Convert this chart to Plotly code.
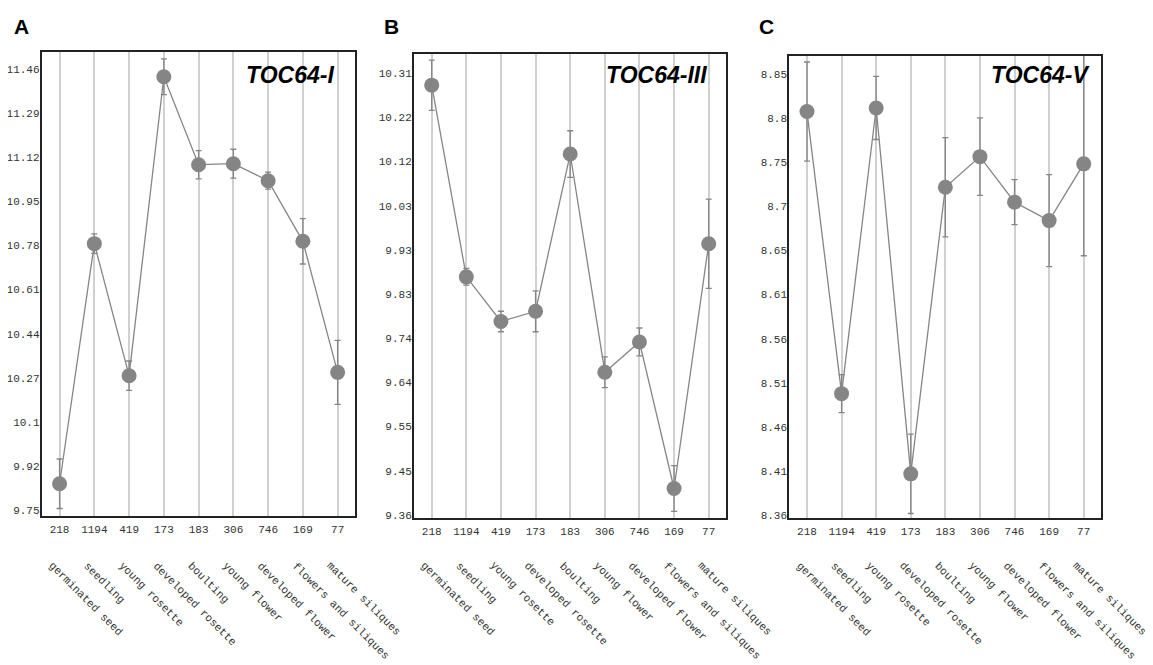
import numpy as np
import plotly.graph_objects as go

# ---------------- data ----------------
stages = ["germinated seed", "seedling", "young rosette", "developed rosette", "boulting",
          "young flower", "developed flower", "flowers and siliques", "mature siliques"]
sample_counts = ["218", "1194", "419", "173", "183", "306", "746", "169", "77"]

toc64_i_mean = [9.852, 10.783, 10.271, 11.430, 11.089, 11.093, 11.027, 10.792, 10.284]
toc64_i_err_up = [0.096, 0.038, 0.057, 0.069, 0.055, 0.056, 0.033, 0.088, 0.124]
toc64_i_err_down = [0.096, 0.038, 0.057, 0.069, 0.055, 0.056, 0.033, 0.088, 0.124]
toc64_i_ticks = ["9.75", "9.92", "10.1", "10.27", "10.44", "10.61", "10.78", "10.95", "11.12", "11.29", "11.46"]

toc64_iii_mean = [10.284, 9.872, 9.776, 9.798, 10.136, 9.667, 9.732, 9.417, 9.943]
toc64_iii_err_up = [0.054, 0.018, 0.022, 0.044, 0.050, 0.033, 0.030, 0.049, 0.096]
toc64_iii_err_down = [0.054, 0.018, 0.022, 0.044, 0.050, 0.033, 0.030, 0.049, 0.096]
toc64_iii_ticks = ["9.36", "9.45", "9.55", "9.64", "9.74", "9.83", "9.93", "10.03", "10.12", "10.22", "10.31"]

toc64_v_mean = [8.808, 8.495, 8.812, 8.406, 8.724, 8.758, 8.7075, 8.687, 8.750]
toc64_v_err_up = [0.055, 0.021, 0.035, 0.044, 0.055, 0.043, 0.025, 0.051, 0.130]
toc64_v_err_down = [0.055, 0.021, 0.035, 0.044, 0.055, 0.043, 0.025, 0.051, 0.102]
toc64_v_ticks = ["8.36", "8.41", "8.46", "8.51", "8.56", "8.61", "8.65", "8.7", "8.75", "8.8", "8.85"]

panel_letters = ["A", "B", "C"]
gene_titles = ["TOC64-I", "TOC64-III", "TOC64-V"]

# ---------------- layout geometry ----------------
# the page body has an 8px default margin, so the figure is offset by 8px
OFF = 8
W, H = 1153 - OFF, 665 - OFF


def px(x):
    return (x - OFF) / W


def py(y):
    return 1 - (y - OFF) / H


panels = [
    dict(mean=toc64_i_mean, up=toc64_i_err_up, dn=toc64_i_err_down, ticks=toc64_i_ticks,
         tmin=9.75, tmax=11.46, yr=[9.727, 11.526], box=(41.5, 355, 52, 516),
         letter_x=12, title_r=336),
    dict(mean=toc64_iii_mean, up=toc64_iii_err_up, dn=toc64_iii_err_down, ticks=toc64_iii_ticks,
         tmin=9.36, tmax=10.31, yr=[9.3536, 10.351], box=(413.7, 726, 54, 518),
         letter_x=382, title_r=709),
    dict(mean=toc64_v_mean, up=toc64_v_err_up, dn=toc64_v_err_down, ticks=toc64_v_ticks,
         tmin=8.36, tmax=8.85, yr=[8.357, 8.870], box=(789, 1101, 55.7, 518),
         letter_x=757, title_r=1091),
]

mono = "Liberation Mono, Courier New, monospace"
sans = "Liberation Sans, Arial, sans-serif"
grey = "#858585"

fig = go.Figure()
annotations = []
x_idx = list(range(len(stages)))

for k, p in enumerate(panels):
    n = "" if k == 0 else str(k + 1)
    x0, x1, y0, y1 = p["box"]
    fig.add_trace(go.Scatter(
        x=x_idx, y=p["mean"], mode="lines+markers",
        line=dict(color=grey, width=1.3),
        marker=dict(size=15, color=grey),
        error_y=dict(type="data", array=p["up"], arrayminus=p["dn"], symmetric=False,
                     color=grey, thickness=1.3, width=3),
        xaxis="x" + n, yaxis="y" + n, showlegend=False, hoverinfo="skip",
    ))
    fig.update_layout(**{
        "xaxis" + n: dict(
            domain=[px(x0), px(x1)], range=[-0.52, 8.5], anchor="y" + n,
            tickvals=x_idx, ticktext=sample_counts, ticks="",
            tickfont=dict(family=mono, size=11, color="#333"),
            ticklabelstandoff=2,
            showgrid=True, gridcolor="#d0d0d0", gridwidth=1.6,
            showline=True, mirror=True, linecolor="#222", linewidth=1.5,
            zeroline=False, automargin=False, fixedrange=True),
        "yaxis" + n: dict(
            domain=[py(y1), py(y0)], range=p["yr"], anchor="x" + n,
            tickvals=list(np.linspace(p["tmin"], p["tmax"], len(p["ticks"]))),
            ticktext=p["ticks"], ticks="",
            tickfont=dict(family=mono, size=11, color="#333"),
            ticklabelstandoff=-2,
            showgrid=False, showline=True, mirror=True, linecolor="#222", linewidth=1.5,
            zeroline=False, automargin=False, fixedrange=True),
    })
    # panel letter
    annotations.append(dict(
        text="<b>" + panel_letters[k] + "</b>", x=px(p["letter_x"]), y=py(27),
        xref="paper", yref="paper", xanchor="left", yanchor="middle", showarrow=False,
        font=dict(family=sans, size=21, color="#000")))
    # gene title
    annotations.append(dict(
        text="<b><i>" + gene_titles[k] + "</i></b>", x=px(p["title_r"]), y=py(74.5),
        xref="paper", yref="paper", xanchor="right", yanchor="middle", showarrow=False,
        font=dict(family=sans, size=23, color="#000")))
    # rotated stage names
    for i, s in enumerate(stages):
        annotations.append(dict(
            text=s, x=i, y=py(557), xref="x" + n, yref="paper",
            xanchor="left", yanchor="top", xshift=-16, textangle=45, showarrow=False,
            font=dict(family=mono, size=11, color="#333")))

fig.update_layout(
    width=W, height=H, margin=dict(l=0, r=0, t=0, b=0),
    paper_bgcolor="white", plot_bgcolor="white",
    template="none", showlegend=False, annotations=annotations,
)

fig.write_html("out.html")
